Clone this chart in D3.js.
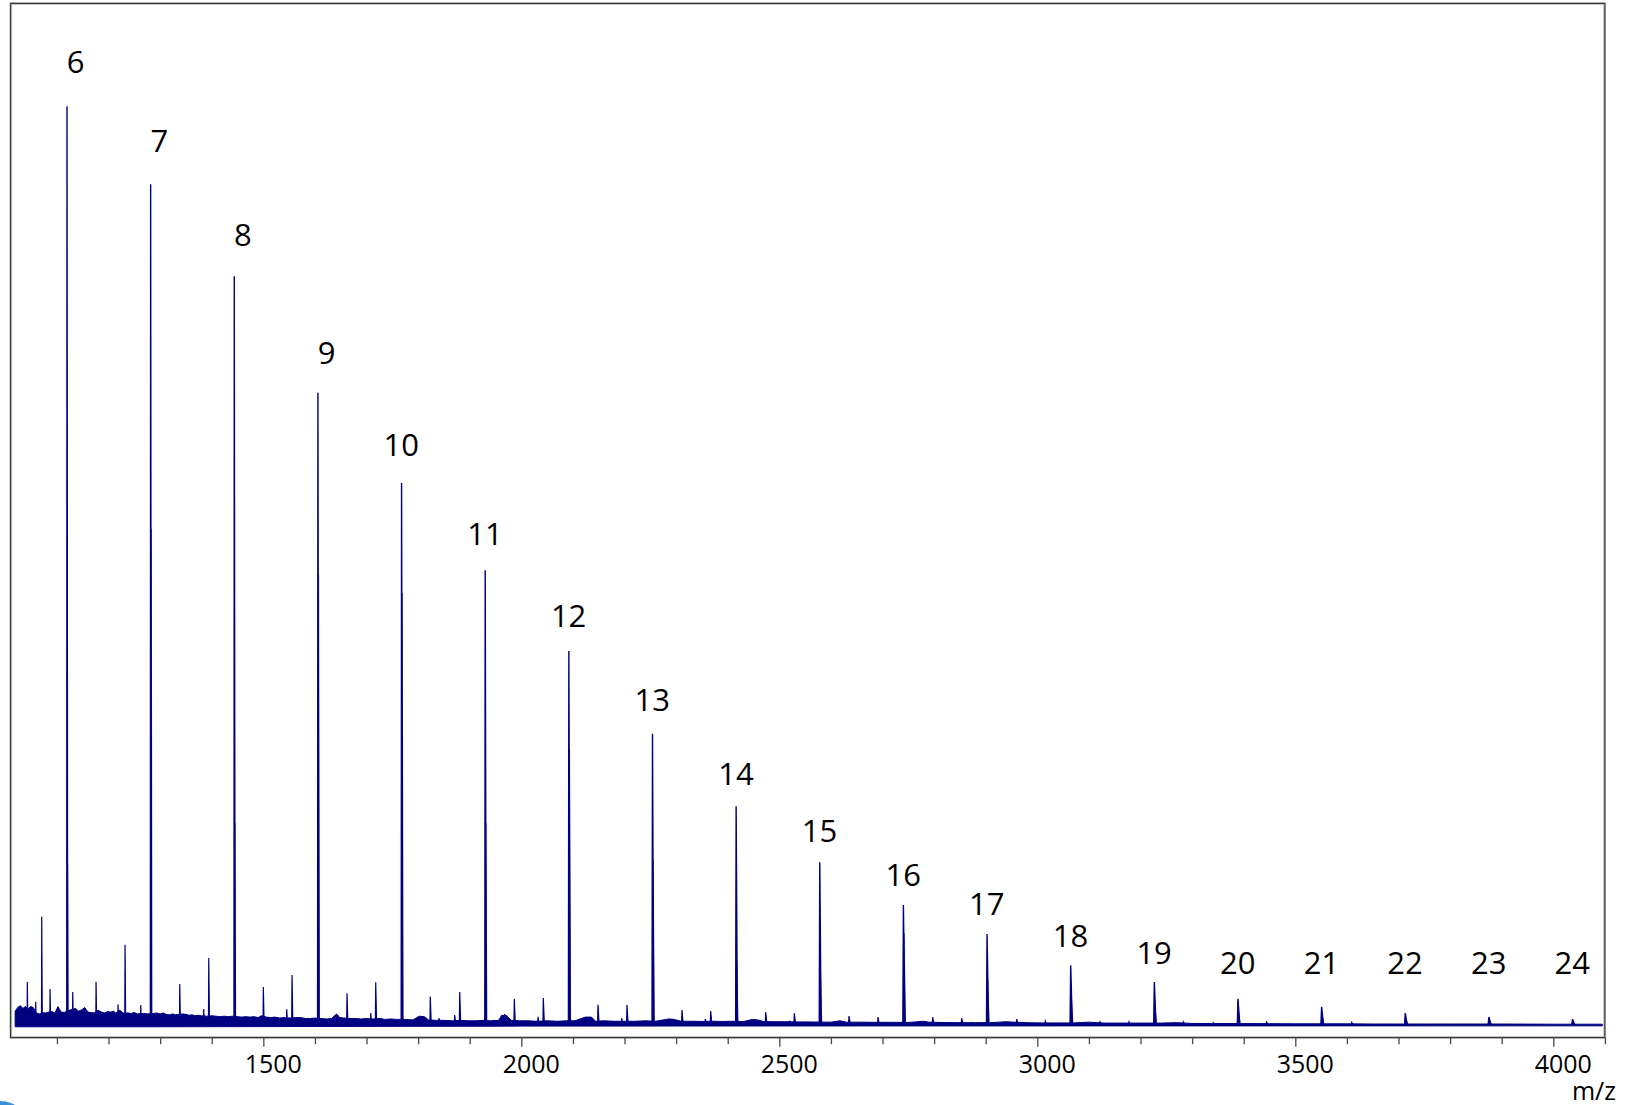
<!DOCTYPE html>
<html>
<head>
<meta charset="utf-8">
<script src="https://cdn.jsdelivr.net/npm/d3@7"></script>
<style>
  html, body { margin: 0; padding: 0; background: #ffffff; }
  svg { display: block; }
</style>
</head>
<body>
<svg id="chart" width="1629" height="1105"></svg>
<script>
// Oligomer ion series, labelled by degree of polymerisation (relative intensity, %)
const seriesLabels = ["6","7","8","9","10","11","12","13","14","15","16","17","18","19","20","21","22","23","24"];
const seriesMz = [1119.5, 1281.6, 1443.7, 1605.8, 1767.9, 1930.0, 2092.1, 2254.2, 2416.3, 2578.4,
                  2740.5, 2902.6, 3064.7, 3226.8, 3388.9, 3551.0, 3713.1, 3875.2, 4037.3];
const seriesIntensity = [100, 91.5, 81.5, 68.8, 59.0, 49.5, 40.7, 31.7, 23.8, 17.7,
                         13.05, 9.9, 6.5, 4.67, 2.84, 1.96, 1.3, 0.86, 0.61];
// second isotope line of each oligomer
const isotopeIntensity = [17.6, 54, 22, 49, 47, 22, 30, 18, 7, 6, 10, 5, 3, 2, 1.5, 1.0, 0.7, 0.5, 0.35];

// Minor ions between the oligomers
const minorMz = [1042.6, 1058.9, 1070.5, 1086.6, 1130.6, 1175.8, 1218.4, 1232.0, 1262.4, 1338.0,
                 1384.5, 1394.2, 1500.0, 1545.3, 1555.6, 1662.2, 1708.1, 1717.8, 1823.6, 1840.5,
                 1870.9, 1880.6, 1967.8, 1986.4, 2032.4, 2042.6, 2129.8, 2148.6, 2194.6, 2204.8,
                 2291.5, 2311.4, 2356.6, 2367.0, 2473.6, 2519.4, 2529.1, 2635.1, 2691.3, 2797.3,
                 2853.5, 2960.1, 3015.5, 3121.5, 3177.7, 3283.0, 3341.0, 3444.5, 3609.3];
const minorIntensity = [4.67, 2.53, 11.78, 3.9, 3.58, 4.7, 2.24, 8.73, 2.17, 4.45,
                        1.73, 7.28, 4.13, 1.7, 5.43, 3.44, 1.3, 4.64, 3.07, 0.75,
                        1.08, 3.58, 1.19, 2.82, 0.89, 2.93, 0.86, 2.2, 0.75, 2.17,
                        0.64, 1.62, 0.64, 1.51, 1.4, 0.46, 1.26, 0.97, 0.86, 0.83,
                        0.72, 0.64, 0.42, 0.35, 0.35, 0.32, 0.24, 0.32, 0.28];

// Baseline noise: upper envelope
const noiseMz = [1019, 1024, 1029, 1034, 1039, 1044, 1049, 1054, 1060, 1066, 1072, 1078, 1084, 1090, 1096,
                 1102, 1108, 1114, 1124, 1130, 1136, 1142, 1148, 1154, 1160, 1166, 1172, 1180, 1186, 1192,
                 1198, 1204, 1210, 1214, 1222, 1228, 1238, 1244, 1250, 1256, 1268, 1276, 1288, 1294, 1300,
                 1306, 1312, 1318, 1324, 1330, 1344, 1350, 1356, 1362, 1368, 1374, 1380, 1390, 1400, 1408,
                 1416, 1424, 1432, 1440, 1450, 1458, 1466, 1474, 1482, 1490, 1496, 1506, 1514, 1522, 1532,
                 1540, 1552, 1562, 1572, 1582, 1592, 1600, 1612, 1622, 1632, 1642, 1648, 1656, 1668, 1678,
                 1690, 1700, 1712, 1726, 1736, 1746, 1760, 1776, 1790, 1802, 1812, 1820, 1834, 1850, 1866,
                 1880, 1896, 1912, 1926, 1940, 1956, 1962, 1972, 1980, 1996, 2012, 2030, 2050, 2070, 2088,
                 2104, 2124, 2136, 2144, 2160, 2180, 2200, 2220, 2240, 2260, 2286, 2296, 2310, 2330, 2350,
                 2370, 2390, 2410, 2430, 2448, 2458, 2470, 2490, 2510, 2540, 2570, 2600, 2618, 2630, 2660,
                 2690, 2720, 2750, 2780, 2790, 2820, 2850, 2880, 2910, 2940, 2955, 2980, 3010, 3040, 3070,
                 3100, 3130, 3160, 3200, 3240, 3270, 3300, 3350, 3400, 3450, 3500, 3550, 3600, 3650, 3700,
                 3750, 3800, 3850, 3900, 3950, 4000, 4050, 4095];
const noiseUpper = [1.5, 1.9, 2.1, 1.8, 2.0, 1.7, 2.0, 1.9, 1.3, 1.2, 1.35, 1.3, 1.4, 1.45, 1.3,
                    2.0, 1.4, 1.35, 1.6, 1.7, 1.8, 1.5, 1.65, 1.9, 1.4, 1.35, 1.3, 1.6, 1.4, 1.3,
                    1.45, 1.4, 1.5, 1.3, 1.6, 1.3, 1.3, 1.25, 1.35, 1.2, 1.25, 1.2, 1.25, 1.3, 1.2,
                    1.3, 1.15, 1.1, 1.2, 1.1, 1.2, 1.15, 1.05, 1.1, 1.0, 1.05, 1.0, 0.95, 1.0, 0.95,
                    0.9, 0.95, 0.9, 0.95, 0.9, 0.85, 0.9, 0.85, 0.9, 0.8, 1.0, 0.85, 0.8, 0.85, 0.75,
                    0.8, 0.75, 0.8, 0.8, 0.7, 0.7, 0.75, 0.7, 0.65, 0.7, 1.2, 0.8, 0.75, 0.7, 0.7,
                    0.65, 0.7, 0.65, 0.7, 0.6, 0.65, 0.6, 0.6, 0.55, 0.95, 0.9, 0.55, 0.5, 0.5, 0.45,
                    0.5, 0.45, 0.45, 0.5, 0.45, 0.5, 1.05, 1.0, 0.5, 0.45, 0.45, 0.4, 0.45, 0.4, 0.45,
                    0.45, 0.85, 0.85, 0.4, 0.45, 0.4, 0.4, 0.4, 0.45, 0.4, 0.65, 0.6, 0.4, 0.4, 0.38,
                    0.4, 0.38, 0.4, 0.36, 0.6, 0.55, 0.36, 0.35, 0.35, 0.33, 0.32, 0.3, 0.45, 0.3, 0.3,
                    0.28, 0.28, 0.27, 0.4, 0.3, 0.26, 0.25, 0.25, 0.25, 0.35, 0.3, 0.24, 0.22, 0.22, 0.22,
                    0.3, 0.2, 0.2, 0.2, 0.2, 0.25, 0.16, 0.15, 0.15, 0.14, 0.12, 0.12, 0.12, 0.1, 0.1,
                    0.1, 0.1, 0.1, 0.1, 0.09, 0.08, 0.08, 0.08];
// Baseline noise: lower envelope
const noiseLowerMz = [1019, 1300, 1600, 2000, 2600, 4095];
const noiseLower = [-0.2, -0.2, -0.17, -0.13, -0.11, -0.1];

// m/z axis ticks
const majorTicks = [1500, 2000, 2500, 3000, 3500, 4000];
const minorTicks = [1100, 1200, 1300, 1400, 1600, 1700, 1800, 1900, 2100, 2200, 2300, 2400,
                    2600, 2700, 2800, 2900, 3100, 3200, 3300, 3400, 3600, 3700, 3800, 3900, 4100];
const axisTitle = "m/z";

const svg = d3.select("#chart");
const ink = "#000080";
const font = "'Open Sans', 'Noto Sans', sans-serif";

const plot = { left: 10.5, right: 1604.9, top: 3.3, bottom: 1037.7 };

const x = d3.scaleLinear().domain([1010, 4100]).range([plot.left, plot.right]);
const y = d3.scaleLinear().domain([-1.39, 111.2]).range([plot.bottom, plot.top]);

// corner badge
svg.append("circle")
  .attr("cx", 0).attr("cy", 1131).attr("r", 30)
  .attr("fill", "#3d8fd6");

// plot frame
svg.append("rect")
  .attr("x", plot.left + 1.2).attr("y", plot.top + 1.2)
  .attr("width", plot.right - plot.left - 2.4).attr("height", plot.bottom - plot.top - 2.4)
  .attr("fill", "none").attr("stroke", "#c4c4c4").attr("stroke-width", 1);
svg.append("rect")
  .attr("x", plot.left).attr("y", plot.top)
  .attr("width", plot.right - plot.left).attr("height", plot.bottom - plot.top)
  .attr("fill", "none").attr("stroke", "#3a3a3a").attr("stroke-width", 1.4);

svg.append("clipPath").attr("id", "plotClip")
  .append("rect")
  .attr("x", plot.left + 1).attr("y", plot.top + 1)
  .attr("width", plot.right - plot.left - 2).attr("height", plot.bottom - plot.top - 2);

const spec = svg.append("g").attr("clip-path", "url(#plotClip)");

// noise band
const upperPts = noiseMz.map((m, i) => [x(m), y(noiseUpper[i])]);
const lowerPts = noiseLowerMz.map((m, i) => [x(m), y(noiseLower[i])]).reverse();
spec.append("path")
  .attr("d", d3.line()(upperPts.concat(lowerPts)) + "Z")
  .attr("fill", ink).attr("stroke", ink).attr("stroke-width", 1)
  .attr("stroke-linejoin", "round");

// peak outline: steep leading edge, slight tail on the high-mass side
function peakPath(m, intensity) {
  const w = 0.001 * m;
  return d3.line()([
    [x(m - 0.4 * w), y(0)],
    [x(m), y(intensity)],
    [x(m + w), y(0)]
  ]);
}

// minor ions
spec.selectAll("path.minor")
  .data(minorMz.map((m, i) => ({ m, v: minorIntensity[i] })))
  .join("path")
  .attr("class", "minor")
  .attr("d", d => peakPath(d.m, d.v))
  .attr("fill", ink).attr("stroke", ink).attr("stroke-width", 1.2)
  .attr("stroke-linejoin", "miter");

// isotope lines
spec.selectAll("path.iso")
  .data(seriesMz.map((m, i) => ({ m: m + 1.2, v: isotopeIntensity[i] })))
  .join("path")
  .attr("class", "iso")
  .attr("d", d => peakPath(d.m, d.v))
  .attr("fill", ink).attr("stroke", ink).attr("stroke-width", 1.1).attr("stroke-opacity", 0.8);

// main oligomer peaks
const series = seriesMz.map((m, i) => ({ m, v: seriesIntensity[i], label: seriesLabels[i] }));
spec.selectAll("path.main")
  .data(series)
  .join("path")
  .attr("class", "main")
  .attr("d", d => peakPath(d.m, d.v))
  .attr("fill", ink).attr("stroke", ink).attr("stroke-width", 1.4)
  .attr("stroke-linejoin", "miter");

// peak labels: the gap above the apex narrows slightly towards the baseline,
// and the small high-mass peaks share one label row
const labelFloor = 974;
const labelY = top => Math.min(top - (35.6 - 0.018 * top), labelFloor);
svg.selectAll("text.dp")
  .data(series)
  .join("text")
  .attr("class", "dp")
  .attr("x", d => x(d.m) + 17.5)
  .attr("y", d => labelY(y(d.v)))
  .attr("text-anchor", "end")
  .attr("font-family", font)
  .attr("font-size", 31)
  .attr("fill", "#000")
  .text(d => d.label);

// m/z axis
const axisG = svg.append("g").attr("transform", `translate(0,${plot.bottom})`);

axisG.append("g")
  .call(d3.axisBottom(x).tickValues(minorTicks).tickSize(6.5).tickFormat(""))
  .call(g => g.select(".domain").remove())
  .call(g => g.selectAll(".tick line").attr("stroke", "#4a4a4a").attr("stroke-width", 1.3));

axisG.append("g")
  .call(d3.axisBottom(x).tickValues(majorTicks).tickSize(9).tickFormat(d3.format("d")))
  .call(g => g.select(".domain").remove())
  .call(g => g.selectAll(".tick line").attr("stroke", "#4a4a4a").attr("stroke-width", 1.3))
  .call(g => g.selectAll(".tick text")
    .attr("y", 35.3).attr("dy", 0).attr("dx", 9.5)
    .attr("font-family", font).attr("font-size", 25).attr("fill", "#000"));

svg.append("text")
  .attr("x", 1616).attr("y", 1100)
  .attr("text-anchor", "end")
  .attr("font-family", font)
  .attr("font-size", 25)
  .attr("fill", "#000")
  .text(axisTitle);
</script>
</body>
</html>
